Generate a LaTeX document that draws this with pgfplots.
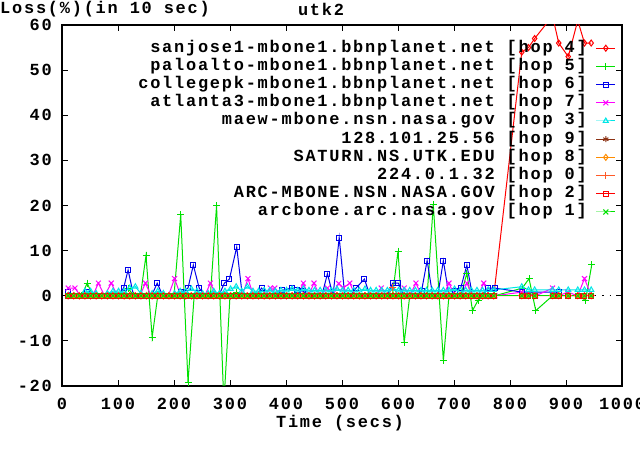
\documentclass[border=0pt]{standalone}
\usepackage{fontspec}
\usepackage{pgfplots}
\usepackage{pgfplotstable}
\pgfplotsset{compat=1.18}
\newfontfamily\gfontfam{Liberation Mono}[LetterSpace=10.5]
\newcommand\gfont{\gfontfam\bfseries\fontsize{17}{20}\selectfont}
\definecolor{cred}{RGB}{255,0,0}
\definecolor{cgreen}{RGB}{0,225,0}
\definecolor{cblue}{RGB}{0,0,235}
\definecolor{cmag}{RGB}{255,0,255}
\definecolor{ccyan}{RGB}{0,230,230}
\definecolor{csienna}{RGB}{140,50,20}
\definecolor{corange}{RGB}{255,140,0}
\definecolor{ccoral}{RGB}{255,90,40}

\pgfplotstableread{
x zero cyan hfour hzero
11 0 0 0 0
21 0 0 0 0
31 0 0 0 0
41 0 1 0 0
51 0 1 0 0
61 0 0.5 0 0
71 0 0 0 0
81 0 0.5 0 0
91 0 1 0 0
101 0 1 0 0
111 0 1 0 0
121 0 1.7 0 0
131 0 2 0 0
141 0 0.5 0 0
151 0 0 0 0
161 0 0.5 0 0
171 0 1 0 0
181 0 0.5 0 0
191 0 0 0 0
201 0 0.5 0 0
211 0 1 0 0
221 0 1 0 0
231 0 1.5 0 0
241 0 1 0 0
251 0 0.5 0 0
261 0 0.5 0 0
271 0 1 0 0
281 0 0.5 0 0
291 0 1 0 0
301 0 1.5 0 0
311 0 2 0 0
321 0 1 0 0
331 0 2 0 0
341 0 1 0 0
351 0 1 0 0
361 0 1.2 0 0
371 0 1.2 0 0
381 0 1 0 0
391 0 1.2 0 0
401 0 1.2 0 0
411 0 1.5 0 0
421 0 1.2 0 0
431 0 1.5 0 0
441 0 1.2 0 0
451 0 1.2 0 0
461 0 1.2 0 0
471 0 1.2 0 0
481 0 1.2 0 0
491 0 1.5 0 0
501 0 1.2 0 0
511 0 1.2 0 0
521 0 1.2 0 0
531 0 1.2 0 0
541 0 1.5 0 0
551 0 1.2 0 0
561 0 1.2 0 0
571 0 1.2 0 0
581 0 1.2 0 0
591 0 1.5 0 1.8
601 0 1.2 0 0
611 0 1.2 0 0
621 0 1.2 0 0
631 0 1.2 0 0
641 0 1.2 0 0
651 0 1.2 0 0
661 0 1.2 0 0
671 0 1.2 0 0
681 0 1.2 0 0
691 0 1.2 0 0
701 0 1.5 0 0
711 0 1.2 0 0
721 0 1.2 0 0
731 0 1.2 0 0
741 0 1.2 0 0
751 0 1.2 0 0
761 0 1.3 0 0
771 0 1.3 0 0
821 0 2 54 0
833 0 1.3 55 0
844 0 1.3 57 0
876 0 1.3 62 0
887 0 1.3 56 0
904 0 1.3 53 0
921 0 1.3 61 0
933 0 1.3 56 0
945 0 1.3 56 0
}\basedata

\begin{document}
\begin{tikzpicture}
\useasboundingbox (0,0) rectangle (640bp,450bp);
\begin{axis}[
  at={(62bp,64bp)}, anchor=south west,
  scale only axis, width=560bp, height=361bp,
  xmin=0, xmax=1000, ymin=-20, ymax=60,
  xtick={0,100,...,1000}, ytick={-20,-10,...,60},
  /pgf/number format/assume math mode=true,
  /pgf/number format/1000 sep={},
  ticklabel style={font=\gfont},
  xticklabel style={inner sep=0pt, yshift=-12bp},
  yticklabel style={inner sep=0pt, xshift=-10bp},
  tick align=inside,
  major tick length=6bp,
  tick style={line width=1bp, black},
  axis line style={line width=1.6bp},
  every axis plot/.append style={line width=1bp, mark options={solid, line width=1bp}},
  legend image code/.code={\draw[mark repeat=2,mark phase=2,#1] plot coordinates {(0bp,0bp) (9.5bp,0bp) (19bp,0bp)};},
  legend cell align=right,
  legend plot pos=right,
  legend style={draw=none, fill=none, at={(1,1)}, anchor=north east,
    xshift=-6bp, yshift=-16bp, inner sep=0pt, font=\gfont, row sep=4.2bp,
    nodes={inner sep=0pt, text height=11bp, text depth=3bp},
    /tikz/every odd column/.append style={column sep=9bp}},
]
\addplot[forget plot, black, line width=1.2bp, dash pattern=on 1.5bp off 6bp] coordinates {(0,0) (1000,0)};
% hop 4
\addplot[cred, mark=diamond, mark size=3bp] table[x=x, y=hfour] {\basedata};
\addlegendentry{sanjose1-mbone1.bbnplanet.net [hop 4]}
% hop 5
\addplot[cgreen, mark=+, mark size=3.5bp] coordinates {
(11,0) (35,0) (45,2.8) (55,0) (108,0) (118,1.7) (128,0) (140,0) (150,8.9) (161,-9.2) (171,0) (200,0) (212,18) (225,-19.2) (236,0) (265,0) (276,20) (289,-24) (300,0) (312,0.8) (322,0) (590,0) (600,9.9) (611,-10.4) (621,0) (652,0) (663,20.2) (681,-14.4) (691,0) (712,0) (723,5) (733,-3.3) (743,-1) (753,0) (773,0) (822,1.7) (834,3.8) (846,-3.3) (876,0) (921,0) (935,-1) (946,6.9)};
\addlegendentry{paloalto-mbone1.bbnplanet.net [hop 5]}
% hop 6
\addplot[cblue, mark=square, mark size=2.5bp] coordinates {
(11,0.8) (21,0) (34,0) (45,0.8) (55,0) (100,0) (110,1.7) (118,5.7) (128,0) (160,0) (170,2.8) (180,0) (202,0) (213,0.8) (225,1.7) (234.5,6.8) (245,1.7) (255,0) (280,0) (290,2.8) (299,3.7) (312,10.8) (322,0) (346,0) (356.5,1.7) (366,0) (393,1.2) (410,1.7) (420,1.2) (431,1) (441,0) (464,0) (474,4.9) (484,0) (495,12.9) (505,0) (515,0) (525,1.7) (540,3.7) (550,0) (580,0) (590.5,2.8) (600.6,2.8) (611,0) (632,0) (642,1) (652,7.8) (662,0) (671,0) (681,7.8) (691,0) (702,1) (712,1.7) (723,6.8) (733,0) (751,0) (761,1.7) (773,1.7) (822,0.8) (888,0.8)};
\addlegendentry{collegepk-mbone1.bbnplanet.net [hop 6]}
% hop 7
\addplot[cmag, mark=x, mark size=3.5bp] coordinates {
(11,1.7) (23,1.7) (33,0) (55,0) (65,2.8) (76,0) (88,2.8) (99,0) (139,0) (149,2.8) (159,0) (190,0) (201,3.8) (212,0) (255,0) (265,2.8) (276,0) (322,0) (332,3.8) (342,0) (362,0) (372,1.7) (380,1.7) (390,0) (421,0) (431,2.8) (440,0) (450,2.8) (460,0) (474,1.7) (484,0) (494,2.7) (502,1.7) (514,2.8) (524,0) (560,0) (570,1.7) (580,0) (601,0) (611,1.7) (621,0) (632,2.8) (642,0) (681,0) (691,2.8) (701,0) (713,0) (723,2.8) (733,0) (743,0) (753,2.8) (763,0) (773,0) (821,0.8) (846,0) (876,1.7) (887,0) (903,0.8) (921,0) (933,3.8) (945,0)};
\addlegendentry{atlanta3-mbone1.bbnplanet.net [hop 7]}
% hop 3
\addplot[ccyan, mark=triangle, mark size=3bp] table[x=x, y=cyan] {\basedata};
\addlegendentry{maew-mbone.nsn.nasa.gov [hop 3]}
% hop 9
\addplot[csienna, mark=asterisk, mark size=3bp] table[x=x, y=zero] {\basedata};
\addlegendentry{128.101.25.56 [hop 9]}
% hop 8
\addplot[corange, mark=diamond, mark size=3bp] table[x=x, y=zero] {\basedata};
\addlegendentry{SATURN.NS.UTK.EDU [hop 8]}
% hop 0
\addplot[ccoral, mark=+, mark size=3.5bp] table[x=x, y=hzero] {\basedata};
\addlegendentry{224.0.1.32 [hop 0]}
% hop 2
\addplot[cred, mark=square, mark size=2.5bp] table[x=x, y=zero] {\basedata};
\addlegendentry{ARC-MBONE.NSN.NASA.GOV [hop 2]}
% hop 1
\addplot[cgreen, mark=x, mark size=3.5bp] table[x=x, y=zero] {\basedata};
\addlegendentry{arcbone.arc.nasa.gov [hop 1]}
\end{axis}
\node[anchor=west, inner sep=0pt, font=\gfont] at (0bp,441bp) {Loss(\%)(in 10 sec)};
\node[inner sep=0pt, font=\gfont] at (321bp,441bp) {utk2};
\node[inner sep=0pt, font=\gfont] at (340bp,27bp) {Time (secs)};
\end{tikzpicture}
\end{document}
